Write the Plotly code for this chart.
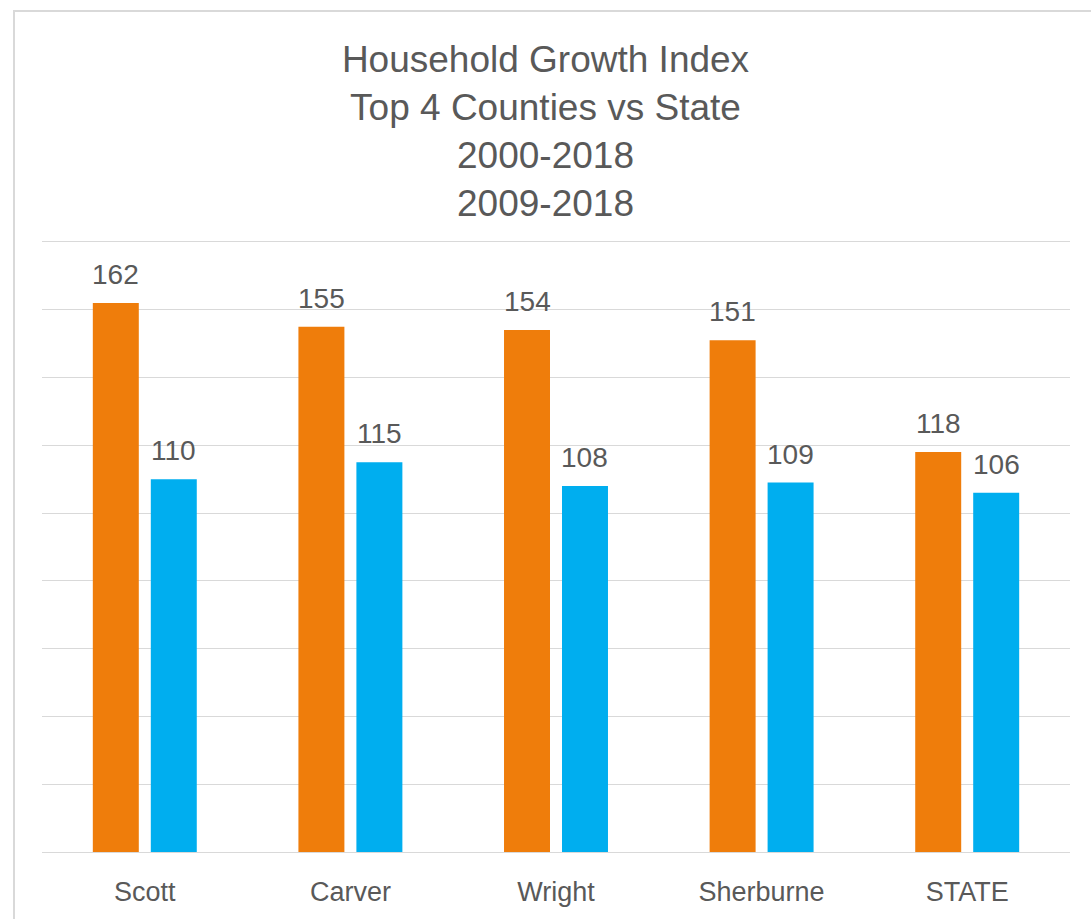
import plotly.graph_objects as go

# Household growth index by county, two periods
counties = ["Scott", "Carver", "Wright", "Sherburne", "STATE"]
index_2000_2018 = [162, 155, 154, 151, 118]
index_2009_2018 = [110, 115, 108, 109, 106]

title_lines = ["Household Growth Index", "Top 4 Counties vs State", "2000-2018", "2009-2018"]

ORANGE = "#EF7D0B"
BLUE = "#00AEEF"
TEXT = "#595959"
GRID = "#D9D9D9"
FONT = "Liberation Sans, Arial, sans-serif"

W, H = 1091, 919
L, R, T, B = 42, 21, 242, 67

fig = go.Figure()
fig.add_trace(go.Bar(x=counties, y=index_2000_2018, name="2000-2018",
                     marker=dict(color=ORANGE, line=dict(width=0))))
fig.add_trace(go.Bar(x=counties, y=index_2009_2018, name="2009-2018",
                     marker=dict(color=BLUE, line=dict(width=0))))

# value labels above each bar
plot_w = W - L - R
slot = plot_w / len(counties)
bargap, bargroupgap = 0.436, 0.207
bar_slot = slot * (1 - bargap) / 2
for series, sign in ((index_2000_2018, -1), (index_2009_2018, 1)):
    for c, v in zip(counties, series):
        fig.add_annotation(x=c, y=v, text=str(v), showarrow=False,
                           xshift=sign * bar_slot / 2, yanchor="bottom", yshift=11,
                           font=dict(family=FONT, size=28, color=TEXT))

# outer chart frame
px_x = lambda p: (p - L) / plot_w
plot_h = H - T - B
px_y = lambda p: 1 - (p - T) / plot_h
fig.add_shape(type="rect", xref="paper", yref="paper",
              x0=px_x(14), x1=px_x(W + 20), y0=px_y(H + 20), y1=px_y(11),
              line=dict(color=GRID, width=2), fillcolor="rgba(0,0,0,0)", layer="below")

fig.update_layout(
    width=W, height=H,
    margin=dict(l=L, r=R, t=T, b=B, autoexpand=False),
    paper_bgcolor="white", plot_bgcolor="white",
    barmode="group", bargap=bargap, bargroupgap=bargroupgap,
    showlegend=False,
    title=dict(text="<br>".join(title_lines), x=0.5, xanchor="center",
               yref="container", y=1 - 72 / H, yanchor="top",
               font=dict(family=FONT, size=37, color=TEXT)),
    font=dict(family=FONT, color=TEXT),
)
fig.update_xaxes(showgrid=False, showline=True, mirror=True, linecolor=GRID, linewidth=1,
                 ticks="", ticklabelstandoff=16, automargin=False,
                 tickfont=dict(family=FONT, size=27, color=TEXT))
fig.update_yaxes(range=[0, 180], dtick=20, showgrid=True, gridcolor=GRID, gridwidth=1,
                 showticklabels=False, zeroline=False, automargin=False,
                 showline=False, ticks="")

fig.write_html("out.html")
